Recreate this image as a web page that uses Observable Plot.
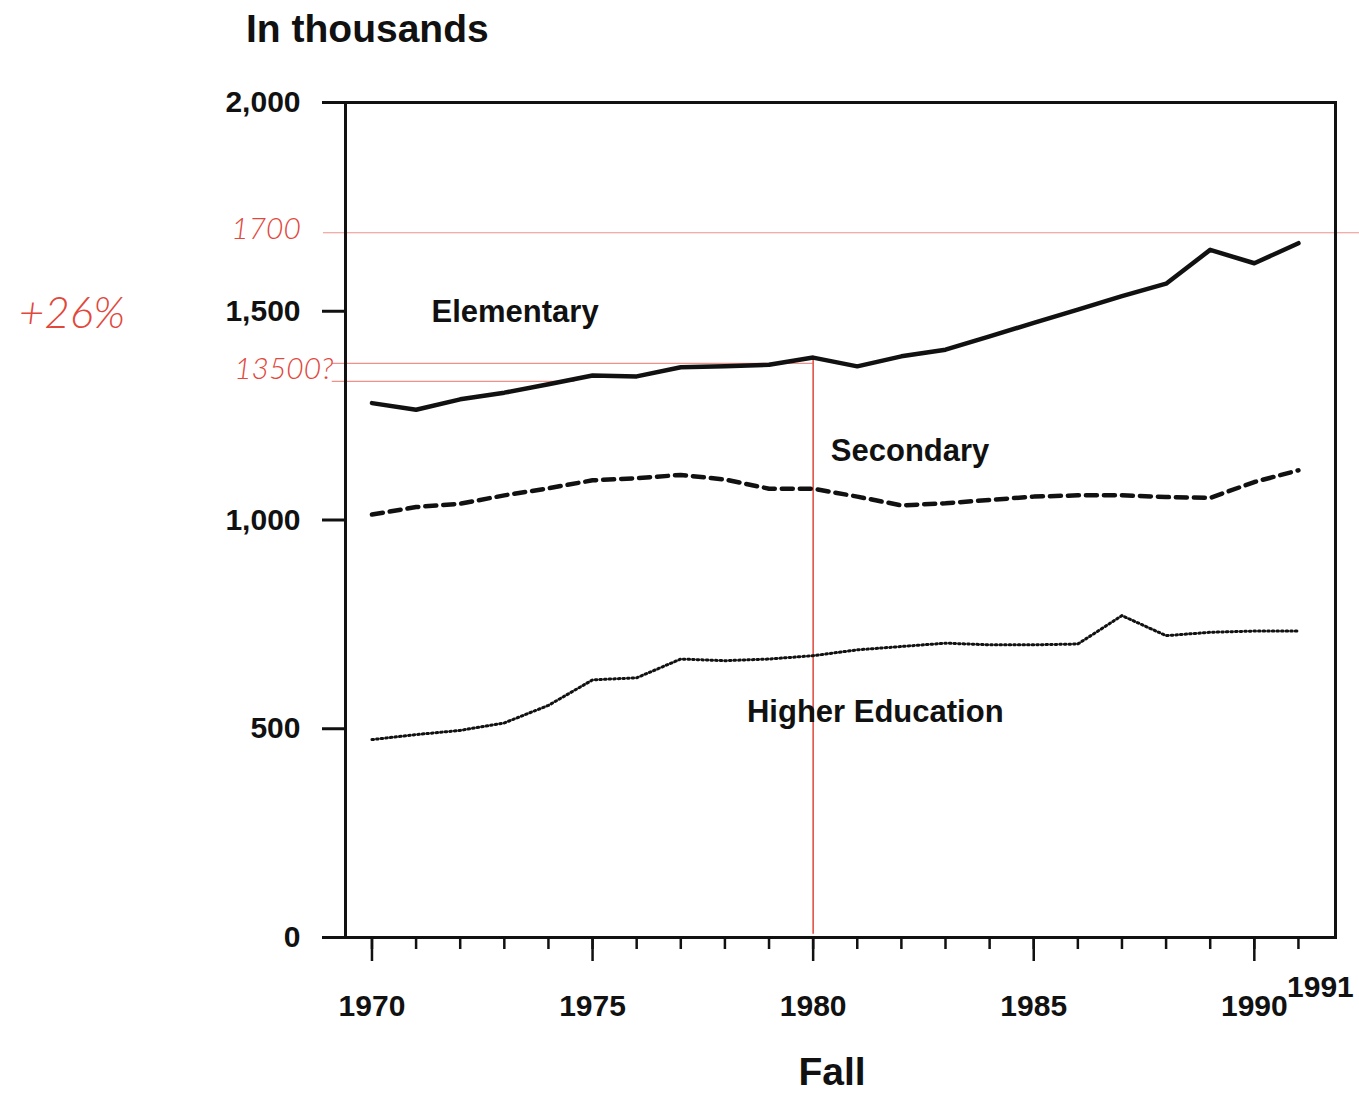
<!DOCTYPE html>
<html>
<head>
<meta charset="utf-8">
<script src="https://cdn.jsdelivr.net/npm/d3@7"></script>
<script src="https://cdn.jsdelivr.net/npm/@observablehq/plot@0.6"></script>
<style>
  html, body { margin: 0; padding: 0; background: #fff; }
  #wrap { position: relative; width: 1359px; height: 1095px; font-family: "Liberation Sans", Arial, sans-serif; }
  #title { position: absolute; left: 246px; top: 7px; font-size: 39px; font-weight: bold; color: #111; }
  #xlabel { position: absolute; left: 832px; top: 1050px; transform: translateX(-50%); font-size: 39px; font-weight: bold; color: #111; }
  #chart { position: absolute; left: 0; top: 70px; }
  #chart svg { overflow: visible; }
</style>
</head>
<body>
<div id="wrap">
  <div id="title">In thousands</div>
  <div id="chart"></div>
  <div id="xlabel">Fall</div>
</div>
<script>
// ---- data ----
const years = [1970,1971,1972,1973,1974,1975,1976,1977,1978,1979,1980,1981,1982,1983,1984,1985,1986,1987,1988,1989,1990,1991];
const elementary = [1280,1264,1289,1305,1325,1346,1344,1366,1368,1372,1389,1368,1392,1408,1440,1472,1504,1536,1566,1647,1615,1663];
const secondary  = [1013,1031,1039,1059,1076,1095,1100,1108,1097,1075,1075,1056,1035,1040,1048,1056,1059,1059,1055,1053,1091,1119];
const higherEd   = [474,486,496,514,556,617,622,667,663,667,675,689,697,705,701,701,703,771,723,731,734,734];
const seriesNames = ["Elementary", "Secondary", "Higher Education"];
const yTicks = [0, 500, 1000, 1500, 2000];
const majorYears = [1970, 1975, 1980, 1985, 1990];
const lastYear = [1991];
// label anchors (year, value)
const labelYears = [1971.35, 1980.4, 1978.5];
const labelValues = [1499, 1164, 541];
// handwritten annotations
const noteTexts = ["1700", "13500?", "+26%"];
const noteYears = [1967.6, 1968.0, 1963.2];
const noteValues = [1696, 1360, 1494];
const noteLineValues = [1688, 1375, 1332];
const noteLineStart = [1968.9, 1969.1, 1969.1];
const noteLineEnd = [1992.4, 1980.0, 1974.6];
const noteMarkYear = [1980];
const noteMarkRange = [8, 1386];

// ---- build tables ----
const valuesBySeries = [elementary, secondary, higherEd];
const rows = [];
seriesNames.forEach((s, i) => years.forEach((yr, j) => rows.push({series: s, year: yr, value: valuesBySeries[i][j]})));
const byName = s => rows.filter(d => d.series === s);
const labels = seriesNames.map((s, i) => ({text: s, year: labelYears[i], value: labelValues[i]}));
const notes = noteTexts.map((t, i) => ({text: t, year: noteYears[i], value: noteValues[i]}));
const noteLines = noteLineValues.map((v, i) => ({value: v, a: noteLineStart[i], b: noteLineEnd[i]}));
const red = "#e2473c";

const chart = Plot.plot({
  width: 1359,
  height: 970,
  marginLeft: 345,
  marginRight: 24,
  marginTop: 32,
  marginBottom: 103,
  x: {domain: [1969.4, 1991.84]},
  y: {domain: [0, 2000]},
  style: {fontFamily: "'Liberation Sans', Arial, sans-serif", fontWeight: "bold", color: "#111", background: "transparent", overflow: "visible"},
  marks: [
    // handwritten red annotations (beneath the data)
    Plot.ruleY(noteLines, {y: "value", x1: "a", x2: "b", stroke: red, strokeWidth: 1.2, strokeOpacity: 0.6}),
    Plot.ruleX(noteMarkYear, {x: d => d, y1: noteMarkRange[0], y2: noteMarkRange[1], stroke: red, strokeWidth: 1.5}),
    Plot.text(notes, {x: "year", y: "value", text: "text", fill: red, fontSize: d => d.text === "+26%" ? 44 : 30,
      fontStyle: "italic", fontWeight: 300, fontFamily: "Lato, 'DejaVu Sans', sans-serif", letterSpacing: 4}),
    // frame and axes
    Plot.frame({strokeWidth: 3, stroke: "#111"}),
    Plot.axisY({ticks: yTicks, tickSize: 23, tickPadding: 22, tickFormat: d3.format(","), fontSize: 30, strokeWidth: 3, label: null}),
    Plot.axisX({ticks: years, tickSize: 12, tickFormat: () => "", strokeWidth: 2.5, label: null}),
    Plot.axisX({ticks: majorYears, tickSize: 24, tickPadding: 33, tickFormat: d => String(d), fontSize: 30, strokeWidth: 2.5, label: null}),
    Plot.axisX({ticks: lastYear, tickSize: 0, tickPadding: 38, tickFormat: d => String(d), fontSize: 30, dx: 22, label: null}),
    // series
    Plot.line(byName("Elementary"), {x: "year", y: "value", stroke: "#111", strokeWidth: 4.5}),
    Plot.line(byName("Secondary"), {x: "year", y: "value", stroke: "#111", strokeWidth: 4.5, strokeDasharray: "11,7"}),
    Plot.line(byName("Higher Education"), {x: "year", y: "value", stroke: "#111", strokeWidth: 3, strokeDasharray: "1.6,3"}),
    // series labels
    Plot.text(labels, {x: "year", y: "value", text: "text", textAnchor: "start", fontSize: 31, fontWeight: "bold", fill: "#111"})
  ]
});
document.getElementById("chart").appendChild(chart);
</script>
</body>
</html>
